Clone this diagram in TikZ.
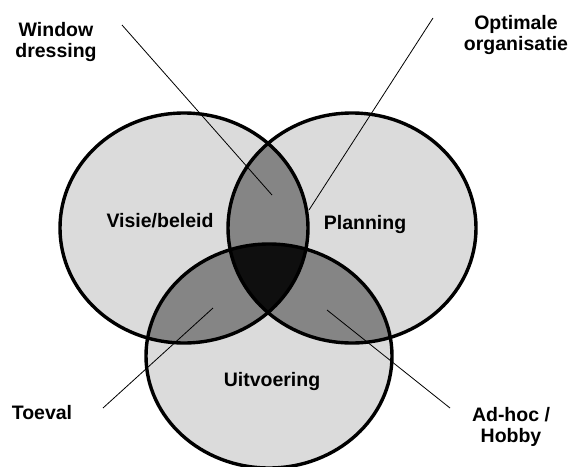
\documentclass[tikz,border=0pt]{standalone}
\usepackage{fontspec}
\setmainfont{Liberation Sans}
\usepackage{tikz}
\usetikzlibrary{positioning}
\definecolor{vennlight}{gray}{0.86}
\definecolor{venndark}{gray}{0.52}
\definecolor{venncore}{gray}{0.06}

\begin{document}
\begin{tikzpicture}[x=1pt,y=-1pt,
    ring/.style={line width=3.4pt},
    leader/.style={line width=0.8pt},
    lbl/.style={font=\bfseries\fontsize{19.5}{21}\selectfont, align=center, inner sep=0pt}]
    \useasboundingbox (0,0) rectangle (573,466);

    % centres of the three sets
    \coordinate (visie) at (184,228);
    \coordinate (plan) at (352,228);
    \coordinate (uitv) at (269,356);

    % light fill of each set
    \fill[vennlight] (visie) ellipse [x radius=124, y radius=115];
    \fill[vennlight] (plan) ellipse [x radius=124, y radius=115];
    \fill[vennlight] (uitv) ellipse [x radius=123, y radius=112];

    % overlaps of two sets
    \begin{scope}
        \clip (visie) ellipse [x radius=124, y radius=115];
        \fill[venndark] (plan) ellipse [x radius=124, y radius=115];
        \fill[venndark] (uitv) ellipse [x radius=123, y radius=112];
    \end{scope}
    \begin{scope}
        \clip (plan) ellipse [x radius=124, y radius=115];
        \fill[venndark] (uitv) ellipse [x radius=123, y radius=112];
    \end{scope}

    % overlap of all three
    \begin{scope}
        \clip (visie) ellipse [x radius=124, y radius=115];
        \clip (plan) ellipse [x radius=124, y radius=115];
        \fill[venncore] (uitv) ellipse [x radius=123, y radius=112];
    \end{scope}

    % outlines
    \draw[ring] (visie) ellipse [x radius=124, y radius=115];
    \draw[ring] (plan) ellipse [x radius=124, y radius=115];
    \draw[ring] (uitv) ellipse [x radius=123, y radius=112];

    % set names
    \node[lbl] (visielbl) at (160,221) {Visie/beleid};
    \node[lbl] (planlbl) at (365,224) {Planning};
    \node[lbl] (uitvlbl) at (272,381) {Uitvoering};

    % outer labels
    \node[lbl] (window) at (56,42) {Window\\dressing};
    \node[lbl] (optimaal) at (516,35) {Optimale\\organisatie};
    \node[lbl] (toeval) at (42,413) {Toeval};
    \node[lbl] (adhoc) at (511,427) {Ad-hoc /\\Hobby};

    % leader lines
    \coordinate (window-a) at (122,25);
    \coordinate (window-b) at (272,195);
    \coordinate (optimaal-a) at (433,18);
    \coordinate (optimaal-b) at (309,210);
    \coordinate (toeval-a) at (103,408);
    \coordinate (toeval-b) at (213,308);
    \coordinate (adhoc-a) at (450,408);
    \coordinate (adhoc-b) at (327,310);
    \draw[leader] (window-a) -- (window-b);
    \draw[leader] (optimaal-a) -- (optimaal-b);
    \draw[leader] (toeval-a) -- (toeval-b);
    \draw[leader] (adhoc-a) -- (adhoc-b);
\end{tikzpicture}
\end{document}
